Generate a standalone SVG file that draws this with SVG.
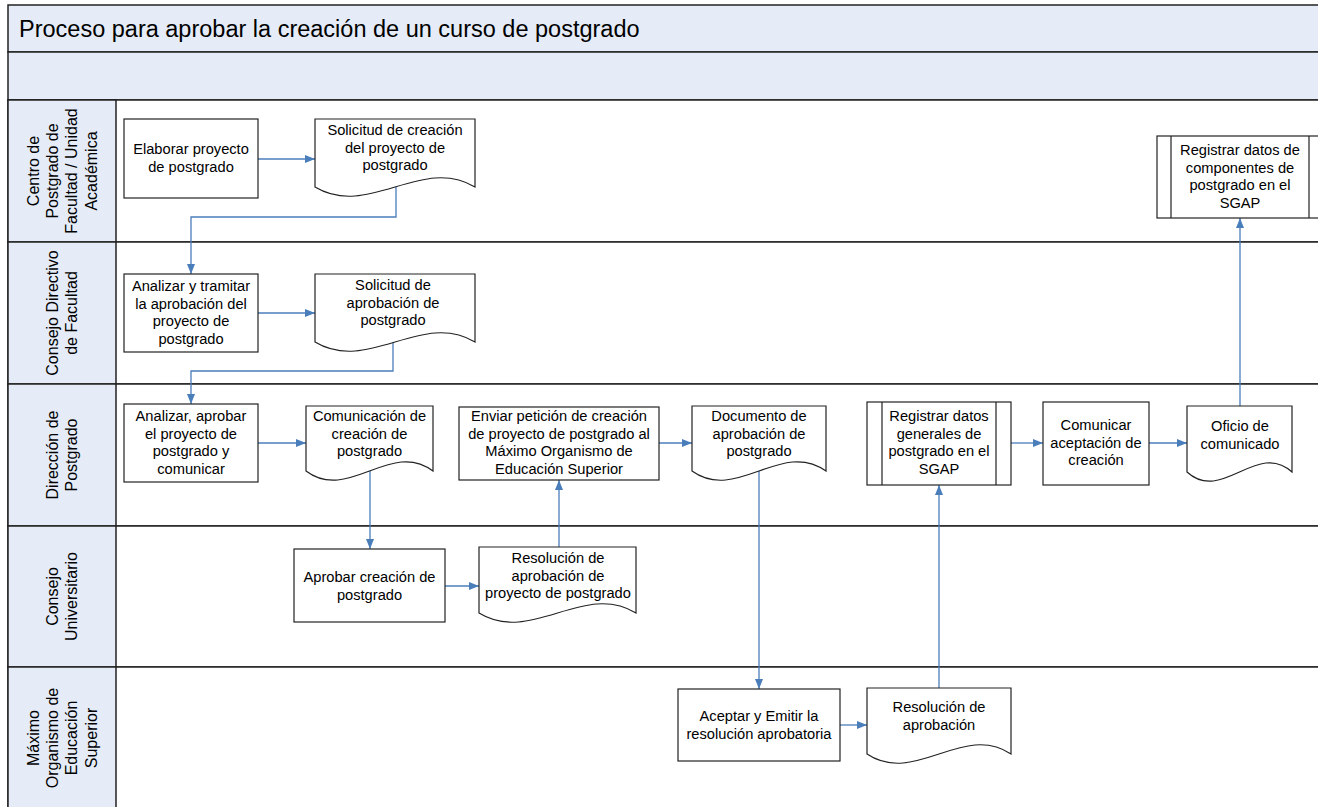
<svg xmlns="http://www.w3.org/2000/svg" width="1318" height="807" viewBox="0 0 1318 807">
<defs>
<style>
.band{fill:#E5ECF7;stroke:#222;stroke-width:1.5}
.lane{fill:#FFFFFF;stroke:#222;stroke-width:1.5}
.lbl{fill:#E5ECF7;stroke:#222;stroke-width:1.5}
.shape{fill:#FFFFFF;stroke:#222;stroke-width:1.2}
.t{font-family:"Liberation Sans",Arial,sans-serif;font-size:14.67px;fill:#000;text-anchor:middle}
.lt{font-family:"Liberation Sans",Arial,sans-serif;font-size:16px;fill:#000;text-anchor:middle}
.title{font-family:"Liberation Sans",Arial,sans-serif;font-size:23.5px;fill:#000}
.c{fill:none;stroke:#4A7EBB;stroke-width:1.3;marker-end:url(#ah)}
</style>
<marker id="ah" markerWidth="10" markerHeight="8" refX="10" refY="4" orient="auto" markerUnits="userSpaceOnUse">
<path d="M0,0 L10,4 L0,8 Z" fill="#4A7EBB"/>
</marker>
</defs>

<g id="pool">
<rect class="band" x="8" y="5" width="1330" height="47"/>
<rect class="band" x="8" y="52" width="1330" height="48"/>
<rect class="lane" x="8" y="100" width="1330" height="142"/>
<rect class="lane" x="8" y="242" width="1330" height="142"/>
<rect class="lane" x="8" y="384" width="1330" height="142"/>
<rect class="lane" x="8" y="526" width="1330" height="141"/>
<rect class="lane" x="8" y="667" width="1330" height="150"/>
<rect class="lbl" x="8" y="100" width="108" height="142"/>
<rect class="lbl" x="8" y="242" width="108" height="142"/>
<rect class="lbl" x="8" y="384" width="108" height="142"/>
<rect class="lbl" x="8" y="526" width="108" height="141"/>
<rect class="lbl" x="8" y="667" width="108" height="150"/>
<text class="title" x="19" y="37">Proceso para aprobar la creación de un curso de postgrado</text>
</g>

<g id="lane-labels">
<text class="lt" transform="translate(62,171) rotate(-90)"><tspan x="0" y="-23.1">Centro de</tspan><tspan x="0" y="-3.9">Postgrado de</tspan><tspan x="0" y="15.3">Facultad / Unidad</tspan><tspan x="0" y="34.5">Académica</tspan></text>
<text class="lt" transform="translate(62,313) rotate(-90)"><tspan x="0" y="-3.9">Consejo Directivo</tspan><tspan x="0" y="15.3">de Facultad</tspan></text>
<text class="lt" transform="translate(62,455) rotate(-90)"><tspan x="0" y="-3.9">Dirección de</tspan><tspan x="0" y="15.3">Postgrado</tspan></text>
<text class="lt" transform="translate(62,596.5) rotate(-90)"><tspan x="0" y="-3.9">Consejo</tspan><tspan x="0" y="15.3">Universitario</tspan></text>
<text class="lt" transform="translate(62,738) rotate(-90)"><tspan x="0" y="-23.1">Máximo</tspan><tspan x="0" y="-3.9">Organismo de</tspan><tspan x="0" y="15.3">Educación</tspan><tspan x="0" y="34.5">Superior</tspan></text>
</g>

<g id="connectors">
<path class="c" d="M258,159 H315"/>
<path class="c" d="M396,187 V217 H191 V274"/>
<path class="c" d="M258,313 H315"/>
<path class="c" d="M393,342 V371 H191 V404"/>
<path class="c" d="M258,443 H306"/>
<path class="c" d="M370,471 V549"/>
<path class="c" d="M445,586 H479"/>
<path class="c" d="M559,547 V480"/>
<path class="c" d="M659,443 H692"/>
<path class="c" d="M759,471 V689"/>
<path class="c" d="M840,725 H867"/>
<path class="c" d="M939,688 V485"/>
<path class="c" d="M1011,443 H1043"/>
<path class="c" d="M1149,443 H1187"/>
<path class="c" d="M1240,406 V218"/>
</g>

<g id="n1">
<rect class="shape" x="124" y="119" width="134" height="79"/>
<text class="t"><tspan x="191" y="154">Elaborar proyecto</tspan><tspan x="191" y="171.6">de postgrado</tspan></text>
</g>
<g id="n2">
<path class="shape" d="M315,119 H475 V187 C421.7,155 368.3,219 315,187 Z"/>
<text class="t"><tspan x="395" y="135">Solicitud de creación</tspan><tspan x="395" y="152.6">del proyecto de</tspan><tspan x="395" y="170.2">postgrado</tspan></text>
</g>
<g id="n3">
<rect class="shape" x="124" y="274" width="134" height="78"/>
<text class="t"><tspan x="191" y="291">Analizar y tramitar</tspan><tspan x="191" y="308.6">la aprobación del</tspan><tspan x="191" y="326.2">proyecto de</tspan><tspan x="191" y="343.8">postgrado</tspan></text>
</g>
<g id="n4">
<path class="shape" d="M315,274 H475 V342 C421.7,310 368.3,374 315,342 Z"/>
<text class="t"><tspan x="393" y="290">Solicitud de</tspan><tspan x="393" y="307.6">aprobación de</tspan><tspan x="393" y="325.2">postgrado</tspan></text>
</g>
<g id="n5">
<rect class="shape" x="124" y="404" width="134" height="78"/>
<text class="t"><tspan x="191" y="421">Analizar, aprobar</tspan><tspan x="191" y="438.6">el proyecto de</tspan><tspan x="191" y="456.2">postgrado y</tspan><tspan x="191" y="473.8">comunicar</tspan></text>
</g>
<g id="n6">
<path class="shape" d="M306,406 H433 V471 C390.7,439 348.3,503 306,471 Z"/>
<text class="t"><tspan x="369.5" y="421">Comunicación de</tspan><tspan x="369.5" y="438.6">creación de</tspan><tspan x="369.5" y="456.2">postgrado</tspan></text>
</g>
<g id="n7">
<rect class="shape" x="459" y="407" width="200" height="73"/>
<text class="t"><tspan x="559" y="421">Enviar petición de creación</tspan><tspan x="559" y="438.6">de proyecto de postgrado al</tspan><tspan x="559" y="456.2">Máximo Organismo de</tspan><tspan x="559" y="473.8">Educación Superior</tspan></text>
</g>
<g id="n8">
<path class="shape" d="M692,406 H826 V471 C781.3,439 736.7,503 692,471 Z"/>
<text class="t"><tspan x="759" y="421">Documento de</tspan><tspan x="759" y="438.6">aprobación de</tspan><tspan x="759" y="456.2">postgrado</tspan></text>
</g>
<g id="n9">
<rect class="shape" x="867" y="402" width="144" height="83"/>
<path class="shape" d="M882,402 V485 M996,402 V485"/>
<text class="t"><tspan x="939" y="421">Registrar datos</tspan><tspan x="939" y="438.6">generales de</tspan><tspan x="939" y="456.2">postgrado en el</tspan><tspan x="939" y="473.8">SGAP</tspan></text>
</g>
<g id="n10">
<rect class="shape" x="1043" y="402" width="106" height="83"/>
<text class="t"><tspan x="1096" y="430">Comunicar</tspan><tspan x="1096" y="447.6">aceptación de</tspan><tspan x="1096" y="465.2">creación</tspan></text>
</g>
<g id="n11">
<path class="shape" d="M1187,406 H1292 V472 C1257,440 1222,504 1187,472 Z"/>
<text class="t"><tspan x="1240" y="431">Oficio de</tspan><tspan x="1240" y="448.6">comunicado</tspan></text>
</g>
<g id="n12">
<rect class="shape" x="1157" y="136" width="166" height="82"/>
<path class="shape" d="M1171,136 V218 M1309,136 V218"/>
<text class="t"><tspan x="1240" y="155">Registrar datos de</tspan><tspan x="1240" y="172.6">componentes de</tspan><tspan x="1240" y="190.2">postgrado en el</tspan><tspan x="1240" y="207.8">SGAP</tspan></text>
</g>
<g id="n13">
<rect class="shape" x="294" y="549" width="151" height="73"/>
<text class="t"><tspan x="369.5" y="582">Aprobar creación de</tspan><tspan x="369.5" y="599.6">postgrado</tspan></text>
</g>
<g id="n14">
<path class="shape" d="M479,547 H636 V613 C583.7,581 531.3,645 479,613 Z"/>
<text class="t"><tspan x="558" y="563">Resolución de</tspan><tspan x="558" y="580.6">aprobación de</tspan><tspan x="558" y="598.2">proyecto de postgrado</tspan></text>
</g>
<g id="n15">
<rect class="shape" x="678" y="689" width="162" height="72"/>
<text class="t"><tspan x="759" y="721">Aceptar y Emitir la</tspan><tspan x="759" y="738.6">resolución aprobatoria</tspan></text>
</g>
<g id="n16">
<path class="shape" d="M867,688 H1011 V754 C963,722 915,786 867,754 Z"/>
<text class="t"><tspan x="939" y="712">Resolución de</tspan><tspan x="939" y="729.6">aprobación</tspan></text>
</g>
</svg>
